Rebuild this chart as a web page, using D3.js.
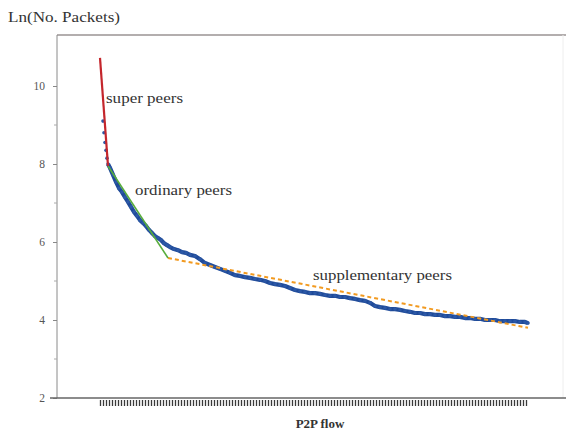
<!DOCTYPE html>
<html>
<head>
<meta charset="utf-8">
<script src="https://cdn.jsdelivr.net/npm/d3@7"></script>
<style>
  html, body { margin: 0; padding: 0; background: #fff; }
  svg { display: block; }
  text { font-family: "Liberation Serif", "DejaVu Serif", serif; }
</style>
</head>
<body>
<svg id="chart" width="566" height="441"></svg>
<script>
// Flow rank (sorted by packet count) and ln(number of packets)
const flowRank = [4, 5, 6, 7, 8, 9, 11, 14, 17, 20, 23, 26, 29, 32, 35, 38, 41, 44, 47,
  50, 53, 56, 59, 62, 65, 68, 71, 75, 79, 83, 87, 91, 96, 101, 106, 111, 116, 121, 126,
  131, 136, 141, 146, 151, 156, 161, 166, 171, 176, 181, 186, 191, 196, 201, 206, 211, 216, 221, 226,
  231, 236, 241, 246, 251, 256, 261, 266, 271, 276, 281, 286, 291, 296, 301, 306, 311, 316, 321, 326,
  331, 336, 341, 346, 351, 356, 361, 366, 371, 376, 381, 386, 391, 396, 401, 406, 411, 416, 421, 426, 429];
const lnPackets = [9.10, 8.80, 8.55, 8.35, 8.15, 8.00, 7.90, 7.72, 7.54, 7.38, 7.28, 7.15, 7.03, 6.90, 6.77, 6.67, 6.56, 6.49, 6.41,
  6.31, 6.23, 6.15, 6.10, 6.05, 5.97, 5.92, 5.87, 5.82, 5.79, 5.74, 5.72, 5.67, 5.64, 5.56, 5.46, 5.41, 5.36, 5.31, 5.26,
  5.21, 5.15, 5.13, 5.10, 5.08, 5.05, 5.03, 5.00, 4.95, 4.92, 4.90, 4.87, 4.82, 4.77, 4.74, 4.72, 4.69, 4.69, 4.67, 4.64,
  4.62, 4.62, 4.59, 4.59, 4.56, 4.54, 4.51, 4.49, 4.44, 4.36, 4.33, 4.31, 4.28, 4.28, 4.26, 4.23, 4.21, 4.18, 4.18, 4.15,
  4.15, 4.13, 4.13, 4.10, 4.10, 4.08, 4.08, 4.05, 4.05, 4.03, 4.03, 4.00, 4.00, 4.00, 3.97, 3.97, 3.97, 3.97, 3.95, 3.95, 3.92];

// Piecewise linear fits for the three peer classes
const superRank = [1, 9];
const superFit = [10.72, 7.95];
const ordinaryRank = [9, 69];
const ordinaryFit = [7.95, 5.59];
const supplementaryRank = [69, 429];
const supplementaryFit = [5.59, 3.80];

const yTicks = [2, 4, 6, 8, 10];
const yMinorTicks = [3, 5, 7, 9];
const xTickRanks = d3.range(1, 430, 3);

const svg = d3.select("#chart");
const plotLeft = 57, plotRight = 563, plotTop = 35, plotBottom = 398;

const x = d3.scaleLinear().domain([1, 429]).range([100, 528]);
const y = d3.scaleLinear().domain([2, 10]).range([plotBottom, 86]);

// frame
svg.append("line").attr("x1", plotLeft).attr("x2", 566).attr("y1", plotTop).attr("y2", plotTop)
  .attr("stroke", "#b3aeae").attr("stroke-width", 2);
svg.append("line").attr("x1", plotRight).attr("x2", plotRight).attr("y1", plotTop).attr("y2", plotBottom)
  .attr("stroke", "#eeeeee").attr("stroke-width", 1);

// y axis
const yAxis = svg.append("g").attr("transform", `translate(${plotLeft},0)`)
  .call(d3.axisLeft(y).tickValues(yTicks).tickSize(4).tickPadding(8));
yAxis.attr("font-family", "'Liberation Serif', serif");
yAxis.select(".domain").attr("d", `M0,${plotTop}V${plotBottom}`).attr("stroke", "#8a8a8a");
yAxis.selectAll(".tick line").attr("stroke", "#888");
yAxis.selectAll(".tick text").attr("fill", "#555").style("font-size", "11.5px");
svg.append("g").attr("transform", `translate(${plotLeft},0)`)
  .selectAll("line").data(yMinorTicks).join("line")
  .attr("x1", -3).attr("x2", 0).attr("y1", d => y(d)).attr("y2", d => y(d))
  .attr("stroke", "#aaa");

// x axis: one tick per sampled flow, no labels
const xAxis = svg.append("g").attr("transform", `translate(0,${plotBottom})`)
  .call(d3.axisBottom(x).tickValues(xTickRanks).tickSize(8).tickFormat(""));
xAxis.select(".domain").remove();
xAxis.selectAll(".tick line").attr("stroke", "#3a3a3a").attr("stroke-width", 1.3)
  .attr("y1", 2);
svg.append("line").attr("x1", 50).attr("x2", 566).attr("y1", plotBottom).attr("y2", plotBottom)
  .attr("stroke", "#666").attr("stroke-width", 1.5);

// measured flows
const pts = flowRank.map((r, i) => [r, lnPackets[i]]);
const line = d3.line().x(d => x(d[0])).y(d => y(d[1]));
svg.append("path").datum(pts.slice(5)).attr("d", line)
  .attr("fill", "none").attr("stroke", "#1f4a98").attr("stroke-width", 4.2)
  .attr("stroke-linejoin", "round");
svg.append("g").selectAll("circle").data(pts).join("circle")
  .attr("cx", d => x(d[0])).attr("cy", d => y(d[1]))
  .attr("r", 1.8).attr("fill", "#2c58a6");

// fitted segments
const seg = (ranks, vals) => ranks.map((r, i) => [r, vals[i]]);
svg.append("path").datum(seg(supplementaryRank, supplementaryFit)).attr("d", line)
  .attr("fill", "none").attr("stroke", "#f29a20").attr("stroke-width", 2)
  .attr("stroke-dasharray", "4,3");
svg.append("path").datum(seg(ordinaryRank, ordinaryFit)).attr("d", line)
  .attr("fill", "none").attr("stroke", "#58ad3c").attr("stroke-width", 1.6);
svg.append("path").datum(seg(superRank, superFit)).attr("d", line)
  .attr("fill", "none").attr("stroke", "#c4262c").attr("stroke-width", 2.2);

// annotations
const note = (tx, ty, s, w) => svg.append("text").attr("x", tx).attr("y", ty)
  .attr("fill", "#333").style("font-size", "15px")
  .attr("textLength", w).attr("lengthAdjust", "spacingAndGlyphs").text(s);
note(106, 103, "super peers", 77);
note(135, 195, "ordinary peers", 97);
note(313, 280, "supplementary peers", 139);

// axis titles
svg.append("text").attr("x", 8).attr("y", 22).attr("fill", "#333")
  .style("font-size", "14px").attr("textLength", 112).attr("lengthAdjust", "spacingAndGlyphs")
  .text("Ln(No. Packets)");
svg.append("text").attr("x", 320).attr("y", 428).attr("text-anchor", "middle")
  .attr("fill", "#333").style("font-size", "13px").style("font-weight", "bold")
  .text("P2P flow");
</script>
</body>
</html>
